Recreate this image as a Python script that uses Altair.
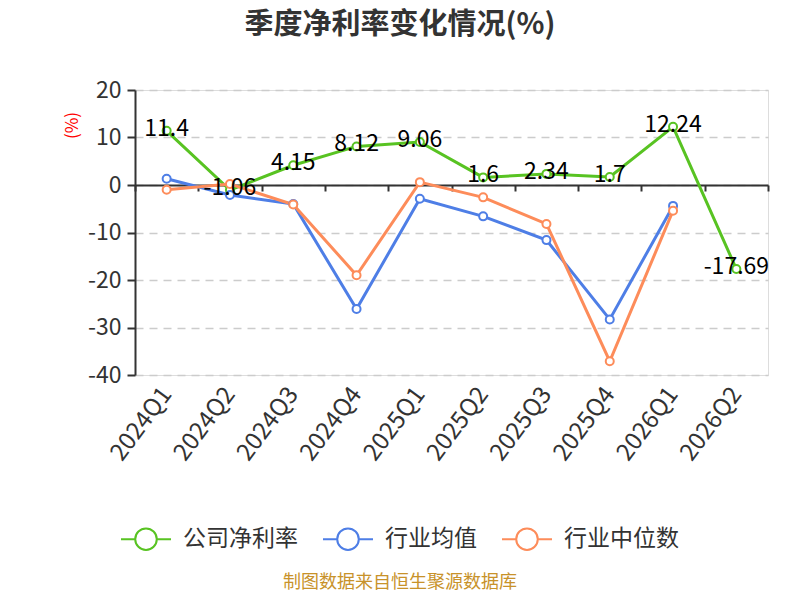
import altair as alt
import pandas as pd

quarters = ["2024Q1", "2024Q2", "2024Q3", "2024Q4", "2025Q1", "2025Q2",
            "2025Q3", "2025Q4", "2026Q1", "2026Q2"]
company = [11.4, -1.06, 4.15, 8.12, 9.06, 1.6, 2.34, 1.7, 12.24, -17.69]
ind_mean = [1.3, -2.1, -4.0, -26.1, -2.9, -6.6, -11.6, -28.3, -4.4, None]
ind_median = [-1.0, 0.2, -4.1, -19.0, 0.6, -2.6, -8.2, -37.1, -5.4, None]

series_names = ["公司净利率", "行业均值", "行业中位数"]
colors = ["#58c322", "#4e7ee6", "#fd8c5a"]
title_text = "季度净利率变化情况(%)"
y_title = "(%)"
source_text = "制图数据来自恒生聚源数据库"
y_ticks = [-40, -30, -20, -10, 0, 10, 20]

rows = []
for name, vals in zip(series_names, [company, ind_mean, ind_median]):
    for q, v in zip(quarters, vals):
        if v is not None:
            rows.append({"quarter": q, "series": name, "value": v, "label": str(v)})
df = pd.DataFrame(rows)
df_company = df[df["series"] == series_names[0]]
df_source = pd.DataFrame({"text": [source_text]})
df_title = pd.DataFrame({"text": [title_text]})

FONT = "Noto Sans CJK SC"
color_scale = alt.Scale(domain=series_names, range=colors)
x_scale = alt.Scale(type="band", domain=quarters, paddingInner=0, paddingOuter=0)
y_scale = alt.Scale(domain=[-40, 20], nice=False)

x_main = alt.X("quarter:N", scale=x_scale, sort=quarters, bandPosition=0.5,
               axis=alt.Axis(title=None, orient="bottom", offset=-190,
                             domain=True, domainColor="#333333", domainWidth=2,
                             ticks=True, tickBand="extent", tickSize=6, tickColor="#333333",
                             tickWidth=2, grid=False,
                             labelAngle=307, labelAlign="right", labelBaseline="middle",
                             labelFontSize=24, labelColor="#333333", labelPadding=199,
                             labelFont=FONT))
y_main = alt.Y("value:Q", scale=y_scale,
               axis=alt.Axis(title=y_title, titleColor="#ff0000", titleFontSize=17,
                             titleFontWeight="normal", titleAngle=270, titleX=-63, titleY=35,
                             titleAlign="center", titleBaseline="middle", titleFont=FONT,
                             values=y_ticks, labelExpr="datum.value + ''",
                             labelFontSize=23, labelColor="#333333",
                             labelFont=FONT, labelPadding=6,
                             domain=True, domainColor="#333333", domainWidth=2,
                             ticks=True, tickSize=8, tickColor="#333333", tickWidth=2,
                             grid=True, gridColor="#cccccc", gridDash=[8, 6], gridWidth=1.3))

lines = alt.Chart(df).mark_line(strokeWidth=3).encode(
    x=x_main,
    y=y_main,
    color=alt.Color("series:N", scale=color_scale, sort=series_names,
                    legend=alt.Legend(title=None, orient="none", direction="horizontal",
                                      legendX=-15, legendY=423,
                                      symbolType="M-1,0L-0.43,0M0.43,0L1,0M-0.43,0A0.43,0.43,0,1,1,0.43,0A0.43,0.43,0,1,1,-0.43,0Z",
                                      symbolSize=2500, symbolStrokeWidth=2,
                                      symbolFillColor="white",
                                      labelFontSize=23, labelColor="#333333", labelFont=FONT,
                                      labelOffset=11, columnPadding=21)),
    detail="series:N",
)

points = alt.Chart(df).mark_point(shape="circle", filled=True, size=64, strokeWidth=2, opacity=1).encode(
    x=alt.X("quarter:N", scale=x_scale, sort=quarters, bandPosition=0.5),
    y=alt.Y("value:Q", scale=y_scale),
    fill=alt.value("white"),
    stroke=alt.Stroke("series:N", scale=color_scale, legend=None),
)

labels = alt.Chart(df_company).mark_text(fontSize=23, color="#000000", font=FONT,
                                         baseline="middle", align="center", dy=-2).encode(
    x=alt.X("quarter:N", scale=x_scale, sort=quarters, bandPosition=0.5),
    y=alt.Y("value:Q", scale=y_scale),
    text=alt.Text("label:N"),
)

source = alt.Chart(df_source).mark_text(fontSize=18, color="#c8922a", font=FONT,
                                        align="center", baseline="middle").encode(
    x=alt.value(265), y=alt.value(493), text="text:N")

title = alt.Chart(df_title).mark_text(fontSize=29, fontWeight="bold", color="#333333", font=FONT,
                                      align="center", baseline="middle").encode(
    x=alt.value(265), y=alt.value(-65), text="text:N")

chart = alt.layer(lines, points, labels, source, title).properties(
    width=633, height=285,
    autosize=alt.AutoSizeParams(type="none"),
    padding={"left": 127, "top": 82, "right": 24, "bottom": 217},
).configure_view(stroke=None).configure(font=FONT)

chart.save("out.html", embed_options={"renderer": "svg", "actions": False})
